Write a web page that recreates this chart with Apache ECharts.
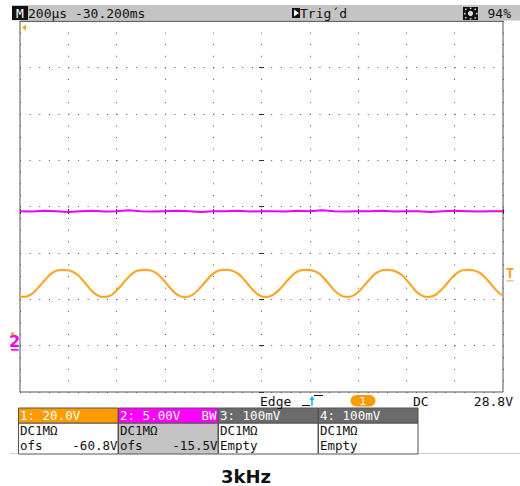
<!DOCTYPE html>
<html><head><meta charset="utf-8">
<script src="https://cdn.jsdelivr.net/npm/echarts@6/dist/echarts.min.js"></script>
<style>html,body{margin:0;padding:0;background:#fff}#c{width:520px;height:486px}</style>
</head><body><div id="c"></div>
<script>
// ---- data ----
const ch1StepUs = 20;           // sample spacing (µs)
const ch1Volts = [
 21.9, 21.85, 22.5, 24.1, 26.3, 28.7, 31.0, 32.6, 33.3, 33.5,
 33.3, 32.6, 31.2, 29.0, 26.5, 24.1, 22.5, 21.8, 21.9, 22.7,
 24.6, 26.8, 29.3, 31.4, 32.9, 33.4, 33.5, 33.2, 32.3, 30.7,
 28.4, 25.9, 23.7, 22.3, 21.7, 22.0, 23.1, 25.1, 27.4, 29.8,
 31.9, 33.1, 33.5, 33.5, 33.0, 32.0, 30.2, 27.8, 25.3, 23.3,
 22.1, 21.7, 22.3, 23.6, 25.6, 28.0, 30.3, 32.2, 33.2, 33.5,
 33.4, 32.9, 31.8, 29.7, 27.3, 24.8, 23.0, 22.0, 21.8, 22.4,
 23.9, 26.1, 28.5, 30.8, 32.4, 33.3, 33.5, 33.3, 32.6, 31.3,
 29.2, 26.7, 24.2, 22.6, 21.8, 21.9, 22.6, 24.4, 26.6, 29.1,
 31.3, 32.8, 33.4, 33.5, 33.2, 32.4, 30.8, 28.6, 26.1, 23.9,
 22.4
];
const ch2StepUs = 50;
const ch2Volts = [
 15.0, 14.95, 15.05, 15.0, 14.9, 15.0, 15.05, 14.95, 15.0, 15.1,
 15.0, 14.95, 15.0, 15.05, 15.0, 14.9, 15.0, 15.0, 15.05, 14.95,
 15.0, 15.0, 14.95, 15.05, 15.0, 15.1, 15.0, 14.95, 15.0, 15.0,
 15.05, 14.95, 15.0, 15.0, 14.9, 15.0, 15.05, 15.0, 14.95, 15.0,
 15.0
];
const channelScale = [20, 5];         // V/div
const channelOffset = [-60.8, -15.5]; // V
const triggerLevel = 28.8;            // V, ch1
const timePerDiv = 200;               // µs
const divsX = 10, divsY = 8;

const headerTexts = ['200µs -30.200ms', 'Trig´d', '94%'];
const statusTexts = ['Edge', '1', 'DC', '28.8V'];
const boxHeads = ['1: 20.0V', '2: 5.00V', '3: 100mV', '4: 100mV'];
const boxHeadRight = ['', 'BW', '', ''];
const boxLine2 = ['DC1MΩ', 'DC1MΩ', 'DC1MΩ', 'DC1MΩ'];
const boxLine3Left = ['ofs', 'ofs', 'Empty', 'Empty'];
const boxLine3Right = ['-60.8V', '-15.5V', '', ''];
const title = '3kHz';

// ---- styles ----
const ORANGE = '#f7a21b', MAGENTA = '#f000f0';
const boxHeadColors = ['#ff9a00', '#ff00ff', '#6b6b6b', '#6b6b6b'];
const boxBodyColors = ['#ffffff', '#c3c3c3', '#ffffff', '#ffffff'];
const MONO = '"DejaVu Sans Mono", monospace';

const ch1Data = ch1Volts.map((v, i) => [i * ch1StepUs, v]);
const ch2Data = ch2Volts.map((v, i) => [i * ch2StepUs, v]);
const tMax = timePerDiv * divsX;
const yMin = k => -divsY / 2 * channelScale[k] - channelOffset[k];
const yMax = k => divsY / 2 * channelScale[k] - channelOffset[k];

const G = {left: 20, top: 21, width: 483, height: 371};

const chart = echarts.init(document.getElementById('c'), null, {renderer: 'svg'});

const hidden = {axisLine: {show: false}, axisTick: {show: false}, axisLabel: {show: false}, splitLine: {show: false}};
const option = {
  animation: false,
  backgroundColor: '#ffffff',
  title: {text: title, left: 216, top: 462,
    textStyle: {fontFamily: '"DejaVu Sans", sans-serif', fontWeight: 'bold', fontSize: 18, color: '#111'}},
  grid: Object.assign({show: true, borderColor: '#555', borderWidth: 1, backgroundColor: '#fff'}, G),
  xAxis: [
    Object.assign({}, hidden, {type: 'value', min: 0, max: tMax, interval: timePerDiv,
      splitLine: {show: true, lineStyle: {color: '#555', width: 1, type: [1, G.height / divsY / 4 - 1]}}}),
    Object.assign({}, hidden, {type: 'value', min: 0, max: tMax, interval: timePerDiv, position: 'bottom', offset: -188,
      axisTick: {show: true, length: 5, lineStyle: {color: '#333', width: 1}}})
  ],
  yAxis: [
    Object.assign({}, hidden, {type: 'value', min: yMin(0), max: yMax(0)}),
    Object.assign({}, hidden, {type: 'value', min: yMin(1), max: yMax(1)}),
    Object.assign({}, hidden, {type: 'value', min: -divsY / 2, max: divsY / 2, interval: 1,
      splitLine: {show: true, lineStyle: {color: '#555', width: 1, type: [1, G.width / divsX / 5 - 1]}}}),
    Object.assign({}, hidden, {type: 'value', min: -divsY / 2, max: divsY / 2, interval: 1, position: 'left', offset: -244,
      axisTick: {show: true, length: 5, lineStyle: {color: '#333', width: 1}}})
  ],
  series: [
    {type: 'line', xAxisIndex: 0, yAxisIndex: 1, data: ch2Data, showSymbol: false, symbol: 'none',
      lineStyle: {color: MAGENTA, width: 2}, z: 3},
    {type: 'line', xAxisIndex: 0, yAxisIndex: 0, data: ch1Data, showSymbol: false, symbol: 'none', smooth: 0.2,
      lineStyle: {color: '#f9c070', width: 3, opacity: 0.45}, z: 3},
    {type: 'line', xAxisIndex: 0, yAxisIndex: 0, data: ch1Data, showSymbol: false, symbol: 'none', smooth: 0.2,
      lineStyle: {color: ORANGE, width: 1.7}, z: 4}
  ]
};
chart.setOption(option);

// ---- decorations (positions of level markers taken from axes) ----
function txt(text, x, y, opts) {
  opts = opts || {};
  return {type: 'text', z: 100, style: {text: text, x: x, y: y,
    font: (opts.weight || 'normal') + ' ' + (opts.size || 12.5) + 'px ' + (opts.family || MONO),
    fill: opts.fill || '#111', align: opts.align || 'left', verticalAlign: 'middle',
    textAlign: opts.align || 'left', textVerticalAlign: 'middle'}};
}
function rect(x, y, w, h, fill, stroke) {
  return {type: 'rect', z: 90, shape: {x: x, y: y, width: w, height: h},
    style: {fill: fill, stroke: stroke || null, lineWidth: stroke ? 1 : 0}};
}
const els = [];
// header bar
els.push(rect(12, 5, 508, 15.5, '#c4c4c4'));
els.push(rect(12, 6, 16, 14, '#111'));
els.push(txt('M', 20, 13.5, {fill: '#fff', align: 'center', size: 13}));
els.push(txt(headerTexts[0], 28, 13.5, {size: 13}));
els.push(rect(292, 8, 8, 10, '#111'));
els.push({type: 'polygon', z: 95, shape: {points: [[294, 9.5], [299, 13], [294, 16.5]]}, style: {fill: '#fff'}});
els.push(txt(headerTexts[1], 300, 13.5, {size: 13}));
els.push(rect(463, 7, 15, 13, '#111'));
els.push({type: 'circle', z: 95, shape: {cx: 470.5, cy: 13.5, r: 2.6}, style: {fill: '#ddd'}});
[[465, 8.5], [474.5, 8.5], [465, 17], [474.5, 17], [469.8, 7.5], [469.8, 18], [464, 12.8], [476, 12.8]].forEach(p =>
  els.push({type: 'rect', z: 95, shape: {x: p[0], y: p[1], width: 1.6, height: 1.6}, style: {fill: '#ccc'}}));
els.push(txt(headerTexts[2], 511, 13.5, {size: 13, align: 'right'}));
// plot top edge
els.push({type: 'line', z: 96, shape: {x1: 20, y1: 21.5, x2: 503, y2: 21.5}, style: {stroke: '#666', lineWidth: 1}});
// trigger position marker (top-left)
els.push({type: 'polygon', z: 96, shape: {points: [[22, 27.5], [26, 24.5], [26, 30.5]]}, style: {fill: ORANGE}});

// status row
els.push(txt(statusTexts[0], 260, 401, {size: 13}));
els.push({type: 'polyline', z: 96, shape: {points: [[302, 405.5], [310, 405.5]]}, style: {stroke: '#111', lineWidth: 1, fill: null}});
els.push({type: 'polyline', z: 96, shape: {points: [[314, 395.5], [323, 395.5]]}, style: {stroke: '#111', lineWidth: 1, fill: null}});
els.push({type: 'line', z: 96, shape: {x1: 312, y1: 406, x2: 312, y2: 397}, style: {stroke: '#14b4f0', lineWidth: 1.5}});
els.push({type: 'polygon', z: 96, shape: {points: [[309.5, 400], [312, 396], [314.5, 400]]}, style: {fill: '#14b4f0'}});
els.push({type: 'rect', z: 95, shape: {x: 350.5, y: 395, width: 25, height: 11.5, r: 5.75}, style: {fill: '#ff9a00'}});
els.push(txt(statusTexts[1], 363, 401, {size: 11, align: 'center', fill: '#fff', family: '"DejaVu Sans", sans-serif'}));
els.push(txt(statusTexts[2], 413, 401, {size: 13}));
els.push(txt(statusTexts[3], 513, 401, {size: 13, align: 'right'}));

// faint separator line
els.push({type: 'line', z: 80, shape: {x1: 10, y1: 453.5, x2: 520, y2: 453.5}, style: {stroke: '#d0d0d0', lineWidth: 1}});
// channel boxes
for (let i = 0; i < 4; i++) {
  const x0 = 18.5 + 100 * i;
  els.push(rect(x0, 423, 99.5, 31, boxBodyColors[i], '#555'));
  els.push(rect(x0, 408, 99.5, 15, boxHeadColors[i], '#555'));
  els.push(txt(boxHeads[i], x0 + 1.5, 415.5, {fill: '#fff'}));
  if (boxHeadRight[i]) els.push(txt(boxHeadRight[i], x0 + 98, 415.5, {fill: '#fff', align: 'right'}));
  els.push(txt(boxLine2[i], x0 + 1.5, 430.5));
  els.push(txt(boxLine3Left[i], x0 + 1.5, 445.5));
  if (boxLine3Right[i]) els.push(txt(boxLine3Right[i], x0 + 99, 445.5, {align: 'right'}));
}

// ground marker (ch2, ch1 marker hidden beneath it) and trigger level marker
const g1 = chart.convertToPixel({yAxisIndex: 0}, 0);
const g2 = chart.convertToPixel({yAxisIndex: 1}, 0);
const tl = chart.convertToPixel({yAxisIndex: 0}, triggerLevel);
els.push({type: 'rect', z: 99, shape: {x: 11, y: g1 - 15, width: 3, height: 3}, style: {fill: ORANGE}});
els.push(txt('2', 14.5, g2 - 9, {fill: MAGENTA, align: 'center', size: 16, weight: 'bold', family: '"DejaVu Sans", sans-serif'}));
els.push({type: 'rect', z: 101, shape: {x: 11, y: g2 - 1.2, width: 7.5, height: 1.6}, style: {fill: MAGENTA}});
els.push(txt('T', 510, tl - 8, {fill: ORANGE, align: 'center', size: 14, weight: 'bold', family: MONO}));
els.push({type: 'rect', z: 101, shape: {x: 506.5, y: tl - 0.8, width: 7, height: 1.6}, style: {fill: '#f8c070'}});

chart.setOption({graphic: {elements: els}});
</script>
</body></html>
